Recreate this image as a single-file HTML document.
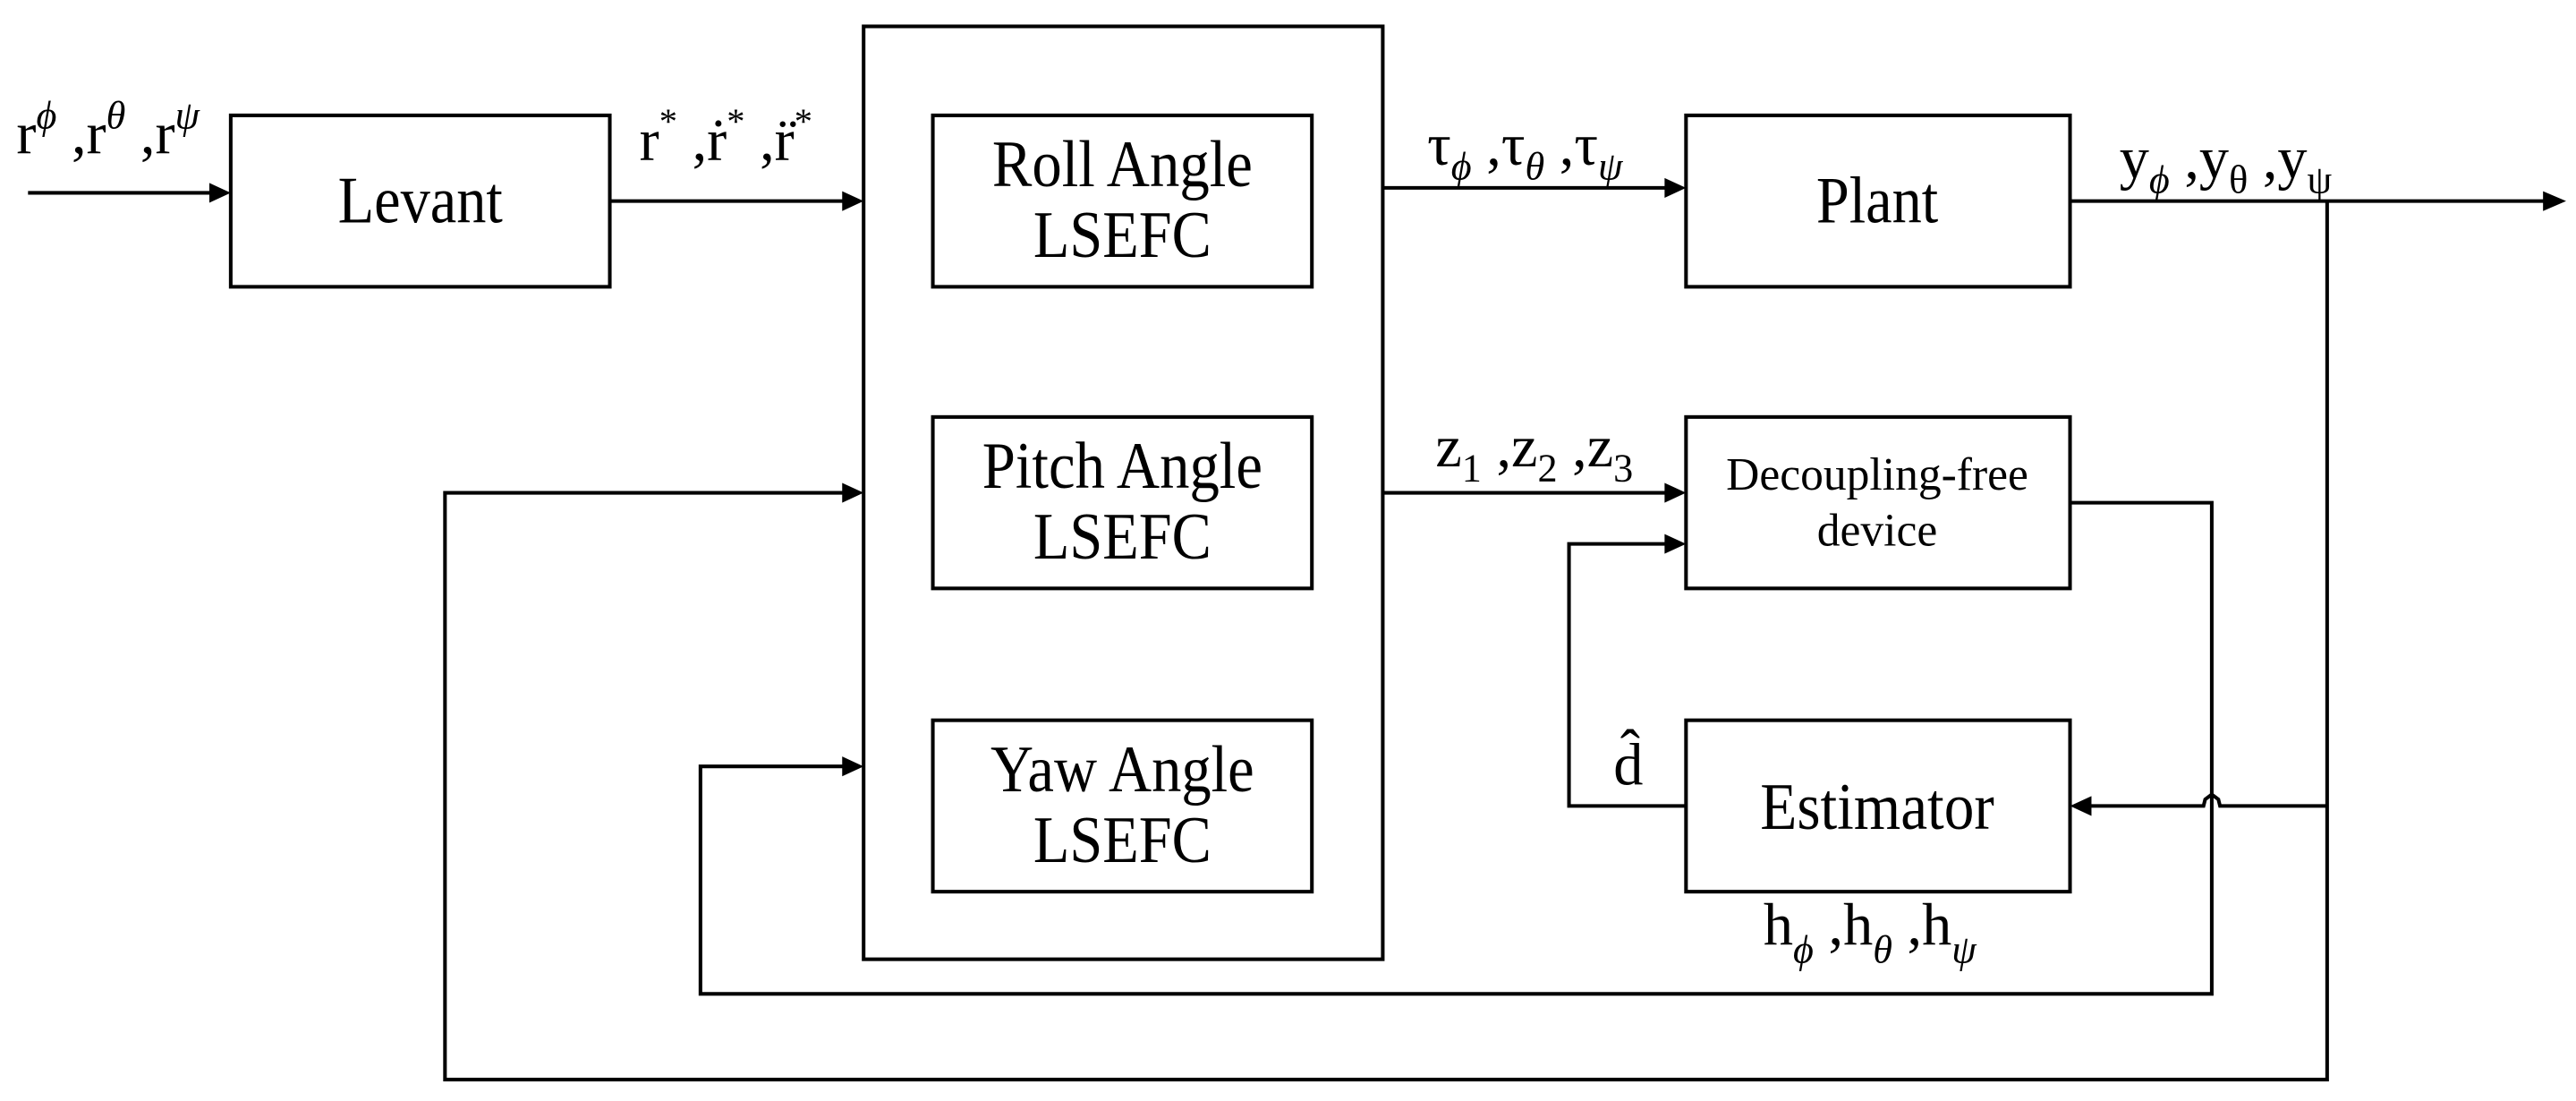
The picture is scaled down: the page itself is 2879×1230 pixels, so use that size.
<!DOCTYPE html>
<html><head><meta charset="utf-8"><style>
html,body{margin:0;padding:0;background:#fff;}
svg{display:block;}
text{font-family:"Liberation Serif",serif;fill:#000;}
</style></head><body>
<svg width="2879" height="1230" viewBox="0 0 1563 668" preserveAspectRatio="none" xmlns="http://www.w3.org/2000/svg">
<g fill="none" stroke="#000" stroke-width="2.2">
<rect x="140" y="70" width="230" height="104"/>
<rect x="524" y="16" width="315" height="566"/>
<rect x="566" y="70" width="230" height="104"/>
<rect x="566" y="253" width="230" height="104"/>
<rect x="566" y="437" width="230" height="104"/>
<rect x="1023" y="70" width="233" height="104"/>
<rect x="1023" y="253" width="233" height="104"/>
<rect x="1023" y="437" width="233" height="104"/>
<line x1="17" y1="117" x2="130" y2="117"/>
<line x1="370" y1="122" x2="514" y2="122"/>
<line x1="839" y1="114" x2="1013" y2="114"/>
<line x1="1256" y1="122" x2="1545" y2="122"/>
<line x1="839" y1="299" x2="1013" y2="299"/>
<polyline points="1023,489 952,489 952,330 1013,330"/>
<polyline points="1412,122 1412,655 270,655 270,299 514,299"/>
<polyline points="1412,489 1347,489 1346,485 1342,482 1338,485 1337,489 1266,489"/>
<polyline points="1256,305 1342,305 1342,603 425,603 425,465 514,465"/>
</g>
<g fill="#000">
<polygon points="140,117 127,111 127,123"/>
<polygon points="524,122 511,116 511,128"/>
<polygon points="1023,114 1010,108 1010,120"/>
<polygon points="1557,122 1543,116 1543,128"/>
<polygon points="1023,299 1010,293 1010,305"/>
<polygon points="1023,330 1010,324 1010,336"/>
<polygon points="524,299 511,293 511,305"/>
<polygon points="524,465 511,459 511,471"/>
<polygon points="1256,489 1269,483 1269,495"/>
</g>
<g font-size="40" text-anchor="middle" lengthAdjust="spacingAndGlyphs">
<text x="255" y="135" textLength="100" lengthAdjust="spacingAndGlyphs">Levant</text>
<text x="681" y="113" textLength="158" lengthAdjust="spacingAndGlyphs">Roll Angle</text>
<text x="681" y="156" textLength="108" lengthAdjust="spacingAndGlyphs">LSEFC</text>
<text x="681" y="296" textLength="170" lengthAdjust="spacingAndGlyphs">Pitch Angle</text>
<text x="681" y="339" textLength="108" lengthAdjust="spacingAndGlyphs">LSEFC</text>
<text x="681" y="480" textLength="160" lengthAdjust="spacingAndGlyphs">Yaw Angle</text>
<text x="681" y="523" textLength="108" lengthAdjust="spacingAndGlyphs">LSEFC</text>
<text x="1139" y="135" textLength="74" lengthAdjust="spacingAndGlyphs">Plant</text>
<text x="1139" y="503" textLength="142" lengthAdjust="spacingAndGlyphs">Estimator</text>
</g>
<g font-size="28" text-anchor="middle">
<text x="1139" y="297">Decoupling-free</text>
<text x="1139" y="331">device</text>
</g>
<g font-size="36">
<text x="10" y="93">r<tspan font-size="24" font-style="italic" dy="-15">ϕ</tspan><tspan dy="15"> ,r</tspan><tspan font-size="24" font-style="italic" dy="-15">θ</tspan><tspan dy="15"> ,r</tspan><tspan font-size="24" font-style="italic" dy="-15">ψ</tspan></text>
<text x="388" y="97">r<tspan font-size="22" dy="-16">*</tspan><tspan dy="16"> ,ṙ</tspan><tspan font-size="22" dy="-16">*</tspan><tspan dy="16"> ,r̈</tspan><tspan font-size="22" dy="-16">*</tspan></text>
<text x="866" y="100">τ<tspan font-size="24" font-style="italic" dy="9">ϕ</tspan><tspan dy="-9"> ,τ</tspan><tspan font-size="24" font-style="italic" dy="9">θ</tspan><tspan dy="-9"> ,τ</tspan><tspan font-size="24" font-style="italic" dy="9">ψ</tspan></text>
<text x="871" y="283">z<tspan font-size="24" dy="9">1</tspan><tspan dy="-9"> ,z</tspan><tspan font-size="24" dy="9">2</tspan><tspan dy="-9"> ,z</tspan><tspan font-size="24" dy="9">3</tspan></text>
<text x="1286" y="108">y<tspan font-size="24" font-style="italic" dy="9">ϕ</tspan><tspan dy="-9"> ,y</tspan><tspan font-size="24" dy="9">θ</tspan><tspan dy="-9"> ,y</tspan><tspan font-size="24" dy="9">ψ</tspan></text>
<text x="1070" y="573">h<tspan font-size="24" font-style="italic" dy="11">ϕ</tspan><tspan dy="-11"> ,h</tspan><tspan font-size="24" font-style="italic" dy="11">θ</tspan><tspan dy="-11"> ,h</tspan><tspan font-size="24" font-style="italic" dy="11">ψ</tspan></text>
<text x="979" y="476">d̂</text>
</g>
</svg>
</body></html>
